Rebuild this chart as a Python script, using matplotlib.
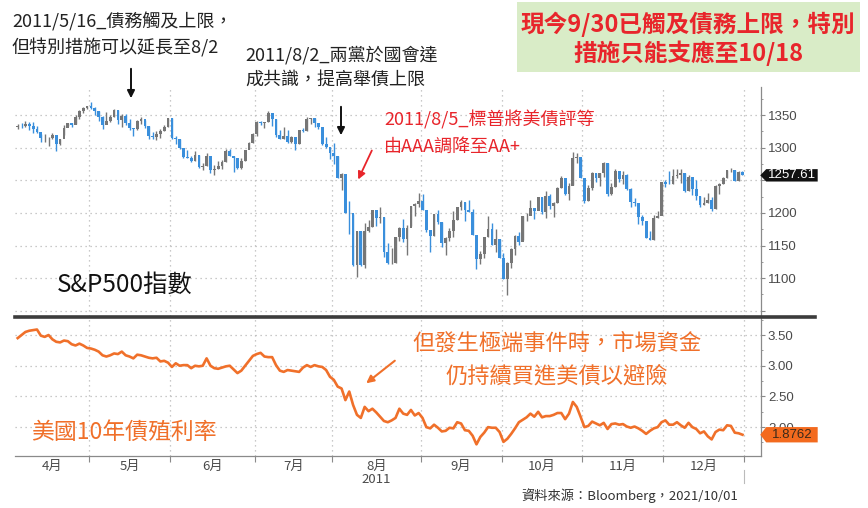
import numpy as np
import matplotlib
matplotlib.use("Agg")
import matplotlib.pyplot as plt
from matplotlib.lines import Line2D
from matplotlib.patches import FancyArrowPatch, Rectangle, Polygon
from matplotlib.ticker import FixedLocator, MultipleLocator
from matplotlib.transforms import blended_transform_factory

W, H = 868, 508
plt.rcParams['font.family'] = ['Noto Sans CJK TC', 'DejaVu Sans']

# ---------------- data ----------------
month_labels = ['4月', '5月', '6月', '7月', '8月\n2011', '9月', '10月', '11月', '12月']
month_days = [19, 21, 22, 20, 23, 21, 21, 21, 21]   # trading days per month (Apr 4 - Dec 30, 2011)

sp_prev_close = 1332.41
sp_close = [
    1332.87, 1332.63, 1335.54, 1333.51, 1328.17, 1324.46, 1314.16, 1314.41, 1314.52, 1319.68,
    1305.14, 1312.62, 1330.36, 1337.38, 1335.25, 1347.24, 1355.66, 1360.48, 1363.61,
    1361.22, 1356.62, 1347.32, 1335.10, 1340.20, 1346.29, 1357.16, 1342.08, 1348.65, 1337.77,
    1329.47, 1328.98, 1340.68, 1343.60, 1333.27, 1317.37, 1316.28, 1320.47, 1325.69, 1331.10, 1345.20,
    1314.55, 1312.94, 1300.16, 1286.17, 1284.94, 1279.56, 1289.00, 1270.98, 1271.83, 1287.87,
    1265.42, 1267.64, 1271.50, 1278.36, 1295.52, 1287.14, 1283.50, 1268.45, 1280.10, 1296.67, 1307.41, 1320.64,
    1339.67, 1337.88, 1339.22, 1353.22, 1343.80, 1319.49, 1313.64, 1317.72, 1308.87, 1316.14,
    1305.44, 1326.73, 1325.84, 1343.80, 1345.02, 1337.43, 1331.94, 1304.89, 1300.67, 1292.28,
    1286.94, 1254.05, 1260.34, 1200.07, 1199.38, 1119.46, 1172.53, 1120.76, 1172.64, 1178.81,
    1204.49, 1192.76, 1193.89, 1140.65, 1123.53, 1123.82, 1162.35, 1177.60, 1159.27, 1176.80, 1210.08, 1212.92, 1218.89,
    1204.42, 1173.97, 1165.24, 1198.62, 1185.90, 1154.23, 1162.27, 1172.87, 1188.68, 1209.11,
    1216.01, 1204.09, 1202.09, 1166.76, 1129.56, 1136.43, 1162.95, 1175.38, 1151.06, 1160.40, 1131.42,
    1099.23, 1123.95, 1144.03, 1164.97, 1155.46, 1194.89, 1195.54, 1207.25, 1203.66, 1224.58,
    1200.86, 1225.38, 1209.88, 1215.39, 1238.25, 1254.19, 1229.05, 1242.00, 1284.59, 1285.09, 1253.30,
    1218.28, 1237.90, 1261.15, 1253.23, 1261.12, 1275.92, 1229.10, 1239.69, 1263.85, 1251.78,
    1257.81, 1236.91, 1216.13, 1215.65, 1192.98, 1188.04, 1161.79, 1158.67, 1192.55, 1195.19, 1246.96,
    1244.58, 1244.28, 1257.08, 1258.47, 1261.01, 1234.35, 1255.19, 1236.47, 1225.73, 1211.82,
    1215.75, 1219.66, 1205.35, 1241.30, 1243.72, 1254.00, 1265.33, 1265.43, 1249.64, 1263.02, 1257.61,
]
sp_high = [
    1336.74, 1338.21, 1341.23, 1338.80, 1339.46, 1333.16, 1321.41, 1321.35, 1316.79, 1322.88,
    1319.13, 1312.70, 1334.91, 1337.49, 1337.55, 1349.55, 1357.49, 1361.71, 1364.56,
    1370.58, 1362.59, 1355.66, 1348.21, 1354.36, 1349.44, 1359.44, 1357.54, 1351.05, 1351.98,
    1343.33, 1330.42, 1341.94, 1346.82, 1342.84, 1333.37, 1323.72, 1325.86, 1328.51, 1334.62, 1345.20,
    1345.20, 1318.03, 1312.94, 1300.16, 1296.22, 1287.04, 1294.54, 1289.00, 1277.04, 1292.50,
    1287.87, 1274.11, 1279.82, 1280.42, 1297.62, 1298.61, 1286.79, 1283.93, 1284.91, 1296.80, 1309.21, 1321.97,
    1341.01, 1340.89, 1340.12, 1356.48, 1353.22, 1343.80, 1327.17, 1331.48, 1326.88, 1317.64,
    1315.49, 1327.16, 1330.92, 1347.00, 1346.10, 1344.80, 1338.51, 1329.59, 1316.32, 1300.94,
    1307.38, 1286.94, 1261.20, 1260.09, 1218.11, 1199.04, 1172.88, 1172.53, 1185.15, 1189.04,
    1204.49, 1204.07, 1208.47, 1193.89, 1154.11, 1145.49, 1162.35, 1178.47, 1190.68, 1181.23, 1210.28, 1215.42, 1230.71,
    1229.29, 1204.42, 1173.97, 1198.62, 1204.40, 1185.90, 1162.59, 1176.41, 1202.38, 1209.11,
    1220.06, 1216.01, 1220.39, 1206.30, 1166.76, 1141.72, 1162.95, 1195.86, 1184.30, 1175.09, 1160.40,
    1138.99, 1125.19, 1146.07, 1165.55, 1171.40, 1194.91, 1199.24, 1220.25, 1207.46, 1224.61,
    1224.58, 1233.10, 1229.29, 1216.57, 1239.03, 1256.55, 1254.19, 1246.03, 1292.66, 1292.28, 1284.85,
    1253.30, 1242.48, 1263.21, 1261.15, 1261.70, 1277.55, 1275.92, 1246.28, 1266.98, 1263.85,
    1264.25, 1259.61, 1237.73, 1223.51, 1215.65, 1196.81, 1188.04, 1172.66, 1197.35, 1203.67, 1247.11,
    1251.09, 1264.20, 1267.06, 1266.73, 1267.76, 1260.87, 1258.25, 1255.19, 1249.86, 1225.73,
    1225.06, 1231.04, 1224.57, 1242.82, 1245.09, 1255.22, 1265.42, 1269.37, 1265.85, 1263.54, 1264.12,
]
sp_low = [
    1329.10, 1330.03, 1331.80, 1326.56, 1322.94, 1321.83, 1309.19, 1309.19, 1302.42, 1313.68,
    1294.70, 1303.97, 1319.85, 1332.50, 1331.47, 1336.72, 1344.25, 1353.60, 1358.69,
    1358.59, 1349.43, 1341.50, 1329.17, 1335.58, 1338.64, 1346.29, 1336.36, 1332.03, 1334.99,
    1327.32, 1318.51, 1326.59, 1336.92, 1330.87, 1312.87, 1313.87, 1311.80, 1314.41, 1325.69, 1331.10,
    1313.71, 1305.61, 1297.90, 1284.89, 1284.74, 1277.42, 1279.65, 1268.77, 1265.64, 1272.65,
    1261.90, 1258.07, 1267.40, 1267.56, 1278.35, 1286.79, 1262.87, 1267.24, 1267.53, 1280.10, 1298.14, 1307.41,
    1318.18, 1334.30, 1330.92, 1339.22, 1333.44, 1316.42, 1313.33, 1313.64, 1306.51, 1307.71,
    1295.92, 1305.61, 1323.65, 1325.66, 1336.95, 1331.09, 1329.10, 1303.99, 1299.16, 1282.86,
    1274.73, 1254.03, 1234.56, 1199.54, 1168.09, 1119.28, 1101.54, 1118.01, 1116.11, 1170.74,
    1178.81, 1180.53, 1184.36, 1132.09, 1122.05, 1121.09, 1123.47, 1156.30, 1155.47, 1135.91, 1179.42, 1195.78, 1209.35,
    1203.85, 1170.56, 1140.13, 1165.24, 1183.34, 1148.37, 1136.07, 1157.44, 1162.73, 1189.12,
    1204.46, 1188.27, 1201.29, 1166.21, 1114.22, 1121.36, 1131.50, 1163.16, 1150.26, 1139.93, 1131.34,
    1098.92, 1074.77, 1115.68, 1134.95, 1150.26, 1158.66, 1187.30, 1196.71, 1190.58, 1205.30,
    1198.55, 1191.48, 1206.31, 1194.27, 1215.39, 1238.24, 1226.79, 1220.00, 1243.20, 1277.01, 1253.16,
    1215.42, 1218.28, 1234.81, 1247.00, 1240.75, 1254.99, 1226.64, 1227.70, 1239.69, 1246.68,
    1244.34, 1235.67, 1209.43, 1211.36, 1183.16, 1181.65, 1161.79, 1158.66, 1158.67, 1191.80, 1196.72,
    1239.73, 1244.28, 1244.80, 1253.03, 1246.59, 1231.47, 1234.35, 1227.25, 1219.43, 1209.47,
    1211.82, 1215.20, 1202.37, 1205.35, 1229.51, 1243.72, 1254.00, 1262.30, 1248.64, 1249.64, 1257.46,
]
us10y = [
    3.45, 3.50, 3.55, 3.57, 3.58, 3.59, 3.49, 3.47, 3.50, 3.43, 3.39, 3.38, 3.41, 3.40, 3.35, 3.33, 3.36, 3.33, 3.29,
    3.28, 3.26, 3.23, 3.17, 3.15, 3.17, 3.20, 3.19, 3.23, 3.17, 3.15, 3.12, 3.18, 3.17, 3.15, 3.13, 3.12, 3.13, 3.07, 3.08, 3.05,
    2.98, 3.04, 3.00, 3.01, 3.01, 2.96, 3.00, 2.99, 3.00, 3.12, 3.00, 2.96, 2.95, 2.97, 2.99, 3.00, 2.94, 2.88, 2.92, 3.00, 3.08, 3.16,
    3.19, 3.21, 3.15, 3.14, 3.14, 3.01, 2.92, 2.90, 2.93, 2.92, 2.91, 2.90, 2.97, 3.01, 2.98, 3.01, 2.99, 2.98, 2.93, 2.82,
    2.77, 2.66, 2.63, 2.44, 2.58, 2.36, 2.20, 2.15, 2.33, 2.26, 2.30, 2.24, 2.17, 2.10, 2.08, 2.11, 2.15, 2.30, 2.22, 2.20, 2.28, 2.19, 2.23,
    2.15, 2.00, 1.98, 2.04, 1.99, 1.93, 1.94, 1.99, 1.98, 2.08, 2.06, 1.95, 1.94, 1.86, 1.72, 1.84, 1.91, 2.00, 1.99, 1.99, 1.92,
    1.76, 1.81, 1.89, 1.98, 2.08, 2.12, 2.16, 2.22, 2.17, 2.25, 2.16, 2.18, 2.18, 2.20, 2.23, 2.23, 2.13, 2.22, 2.41, 2.33, 2.17,
    2.00, 2.02, 2.09, 2.06, 2.03, 2.07, 1.97, 2.05, 2.06, 2.04, 2.05, 2.01, 1.99, 2.01, 1.98, 1.94, 1.89, 1.94, 1.98, 2.00, 2.08,
    2.11, 2.04, 2.04, 2.08, 2.03, 1.99, 2.07, 2.00, 1.97, 1.90, 1.93, 1.85, 1.80, 1.92, 1.96, 1.95, 2.03, 2.02, 1.91, 1.90, 1.8762,
]

sp_ticks = [1050, 1100, 1150, 1200, 1250, 1300, 1350]
sp_ticklabels = ['', '1100', '1150', '1200', '', '1300', '1350']   # 1250 sits under the last-value tag
y_ticks = [2.0, 2.5, 3.0, 3.5]
y_ticklabels = ['2.00', '2.50', '3.00', '3.50']

# ---------------- style ----------------
BLUE = '#3a8fdc'
GREY = '#767676'
ORANGE = '#f0702a'
RED = '#e8252b'
GRID = '#b8b8b8'
AXC = '#8a8a8a'
TXT = '#4a4a4a'

fig = plt.figure(figsize=(W / 100, H / 100), dpi=100)
fig.patch.set_facecolor('white')


def fx(x):
    return x / W


def fy(y):
    return 1 - y / H


L, R = 15, 761
ax1 = fig.add_axes([fx(L), fy(316), (R - L) / W, (316 - 87) / H])
ax2 = fig.add_axes([fx(L), fy(456), (R - L) / W, (456 - 316) / H])

n = len(sp_close)
idx = np.arange(n)
close = np.array(sp_close)
opens = np.concatenate([[sp_prev_close], close[:-1]])
up = close >= opens
cols = np.where(up, GREY, BLUE)

bounds = np.concatenate([[-0.5], np.cumsum(month_days) - 0.5])
centers = (bounds[:-1] + bounds[1:]) / 2
xlim = (-0.7, 192.8)

# ---------- top: S&P 500 candles ----------
ax1.vlines(idx, sp_low, sp_high, colors=cols, lw=1.0, zorder=3)
ax1.bar(idx, np.abs(close - opens), bottom=np.minimum(close, opens), width=0.72,
        color=cols, linewidth=0, zorder=3)
ax1.set_xlim(*xlim)
ax1.set_ylim(1042, 1393)
ax1.set_xticks(bounds[1:])
ax1.set_yticks(sp_ticks)
ax1.set_yticklabels(sp_ticklabels)
ax1.yaxis.set_minor_locator(MultipleLocator(25))
ax1.yaxis.tick_right()
ax1.grid(True, which='major', ls=(0, (1, 3)), color=GRID, lw=0.9)
for s in ['top', 'left', 'bottom']:
    ax1.spines[s].set_visible(False)
ax1.spines['right'].set_color(AXC)
ax1.spines['right'].set_linewidth(0.9)
ax1.tick_params(axis='x', length=0, labelbottom=False)
ax1.tick_params(axis='y', which='major', direction='out', length=3, color=AXC,
                labelcolor=TXT, labelsize=9.5, pad=2)
ax1.tick_params(axis='y', which='minor', direction='out', length=1.5, color=AXC)
for lab in ax1.get_yticklabels():
    lab.set_fontfamily(['Liberation Sans', 'DejaVu Sans'])

# ---------- bottom: US 10Y yield ----------
ax2.plot(idx, us10y, color=ORANGE, lw=1.9, zorder=3, solid_joinstyle='round')
ax2.set_xlim(*xlim)
ax2.set_ylim(1.53, 3.81)
ax2.set_yticks(y_ticks)
ax2.set_yticklabels(y_ticklabels)
ax2.yaxis.set_minor_locator(MultipleLocator(0.25))
ax2.yaxis.tick_right()
ax2.xaxis.set_major_locator(FixedLocator(bounds[1:]))
ax2.xaxis.set_minor_locator(FixedLocator(centers))
ax2.set_xticklabels([''] * len(bounds[1:]))
ax2.set_xticklabels(month_labels, minor=True)
ax2.grid(True, which='major', ls=(0, (1, 3)), color=GRID, lw=0.9)
for s in ['top', 'left']:
    ax2.spines[s].set_visible(False)
for s in ['right', 'bottom']:
    ax2.spines[s].set_color(AXC)
    ax2.spines[s].set_linewidth(0.9)
ax2.tick_params(axis='x', which='major', direction='out', length=4, color=AXC)
ax2.tick_params(axis='x', which='minor', length=0, labelsize=9.5, labelcolor=TXT, pad=3)
ax2.tick_params(axis='y', which='major', direction='out', length=3, color=AXC,
                labelcolor=TXT, labelsize=9.5, pad=2)
ax2.tick_params(axis='y', which='minor', direction='out', length=1.5, color=AXC)
for lab in ax2.get_yticklabels():
    lab.set_fontfamily(['Liberation Sans', 'DejaVu Sans'])
for lab in ax2.get_xticklabels(minor=True):
    lab.set_linespacing(1.0)


# ---------- last-value tags ----------
def value_tag(ax, val, halfh, face, tcolor, text):
    tr = blended_transform_factory(ax.transAxes, ax.transData)
    x0, xp, x1 = 0.999, 1.007, 1.076
    poly = Polygon([(x0, val), (xp, val + halfh), (x1, val + halfh), (x1, val - halfh), (xp, val - halfh)],
                   closed=True, transform=tr, facecolor=face, edgecolor='none', clip_on=False, zorder=10)
    ax.add_patch(poly)
    ax.text((xp + x1) / 2, val, text, transform=tr, ha='center', va='center', color=tcolor,
            fontsize=9.5, family=['Liberation Sans', 'DejaVu Sans'], zorder=11, clip_on=False)


value_tag(ax1, sp_close[-1], 9.5, '#111111', 'white', f'{sp_close[-1]:.2f}')
value_tag(ax2, us10y[-1], 0.125, '#f36a1e', '#3a2a1a', f'{us10y[-1]:.4f}')

# separator bar & year tick
fig.add_artist(Line2D([fx(15), fx(815)], [fy(316.5), fy(316.5)], color='#3c3c3c', lw=2.6))
fig.add_artist(Line2D([fx(744), fx(744)], [fy(470), fy(483)], color='#bbbbbb', lw=0.8))


# ---------- annotations ----------
def ftext(x, y, s, **kw):
    fig.text(fx(x), fy(y), s, **kw)


def farrow(x0, y0, x1, y1, color, lw=1.4, ms=11):
    fig.add_artist(FancyArrowPatch((fx(x0), fy(y0)), (fx(x1), fy(y1)), transform=fig.transFigure,
                                   arrowstyle='-|>', mutation_scale=ms, lw=lw, color=color))


ftext(12, 22, '2011/5/16_債務觸及上限，', fontsize=13, color='#222222', va='center')
ftext(12, 48, '但特別措施可以延長至8/2', fontsize=13, color='#222222', va='center')
farrow(131, 66, 131, 101, '#111111')

ftext(245, 55, '2011/8/2_兩黨於國會達', fontsize=13, color='#222222', va='center')
ftext(245, 80, '成共識，提高舉債上限', fontsize=13, color='#222222', va='center')
farrow(341, 104, 341, 138, '#111111')

ftext(384, 120, '2011/8/5_標普將美債評等', fontsize=13, color=RED, va='center')
ftext(384, 147, '由AAA調降至AA+', fontsize=13, color=RED, va='center')
farrow(373, 148, 357, 182, RED, lw=1.3)

fig.add_artist(Rectangle((fx(517), fy(72)), (860 - 517) / W, 70 / H, transform=fig.transFigure,
                         facecolor='#d9ecc7', edgecolor='none'))
ftext(688, 24, '現今9/30已觸及債務上限，特別', fontsize=17, color=RED, ha='center', va='center',
      fontweight='bold')
ftext(688, 53, '措施只能支應至10/18', fontsize=17, color=RED, ha='center', va='center',
      fontweight='bold')

ftext(57, 285, 'S&P500指數', fontsize=17.5, color='#111111', va='center')

ftext(557, 343, '但發生極端事件時，市場資金', fontsize=16, color=ORANGE, ha='center', va='center')
ftext(557, 376, '仍持續買進美債以避險', fontsize=16, color=ORANGE, ha='center', va='center')
farrow(397, 359, 364, 385, ORANGE, lw=1.5)

ftext(31, 432, '美國10年債殖利率', fontsize=16.5, color=ORANGE, va='center')

ftext(630, 496, '資料來源：Bloomberg，2021/10/01', fontsize=9.5, color='#333333', ha='center', va='center')

fig.savefig('out.png', dpi=100, facecolor='white')
